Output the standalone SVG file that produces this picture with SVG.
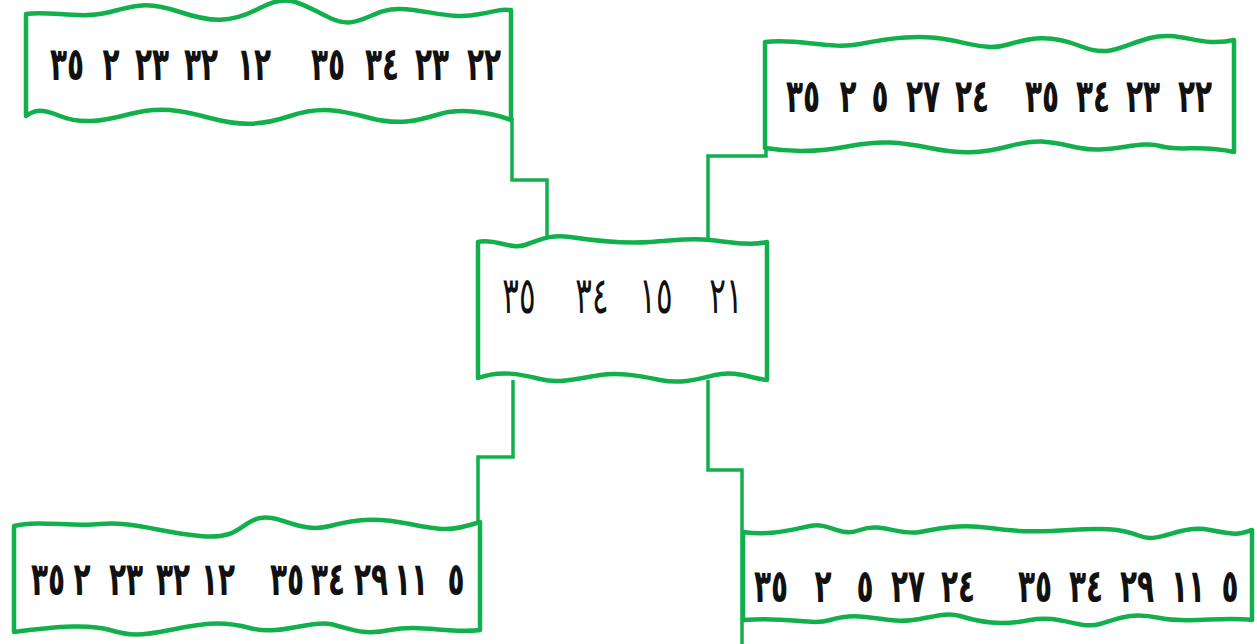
<svg xmlns="http://www.w3.org/2000/svg" width="1257" height="644" viewBox="0 0 1257 644">
<style>
.box{fill:#fff;stroke:#12b04c;stroke-width:4.5;stroke-linejoin:round}
.conn{fill:none;stroke:#12b04c;stroke-width:3.5}
.t{font-family:"DejaVu Sans",sans-serif;font-weight:bold;font-size:28px;fill:#111;text-anchor:middle}
.c{font-family:"DejaVu Sans",sans-serif;font-weight:normal;font-size:31px;fill:#111;text-anchor:middle}
</style>
<rect width="1257" height="644" fill="#fff"/>
<g id="connectors">
<path class="conn" d="M512,118 V180 H547 V240"/>
<path class="conn" d="M708,242 V156 H766 V148"/>
<path class="conn" d="M513,380 V457 H478 V526"/>
<path class="conn" d="M708,380 V470 H742 V644"/>
</g>
<g id="node-top-left">
<path class="box" d="M26,14 C50,10 80,20 110,12 S150,2 180,12 S230,24 260,8 S300,4 330,18 S370,8 400,9 S450,20 480,14 S500,10 511,10 L511,120 C490,112 460,108 440,114 S400,126 370,118 S320,106 290,116 S240,126 210,118 S160,106 130,114 S80,124 60,116 S35,110 26,116 Z"/>
<g transform="translate(0,80) scale(1,1.65)">
<text class="t" x="67" y="0">٣٥</text>
<text class="t" x="111" y="0">٢</text>
<text class="t" x="152" y="0">٢٣</text>
<text class="t" x="201" y="0">٣٢</text>
<text class="t" x="254" y="0">١٢</text>
<text class="t" x="328" y="0">٣٥</text>
<text class="t" x="382" y="0">٣٤</text>
<text class="t" x="432" y="0">٢٣</text>
<text class="t" x="484" y="0">٢٢</text>
</g>
</g>
<g id="node-top-right">
<path class="box" d="M765,42 C800,38 830,50 860,44 S920,34 950,40 S990,50 1010,44 S1050,34 1080,46 S1120,46 1150,38 S1200,48 1234,40 L1234,152 C1200,144 1180,152 1160,146 S1110,154 1080,148 S1040,138 1010,146 S960,154 930,148 S880,140 850,146 S790,152 765,148 Z"/>
<g transform="translate(0,112) scale(1,1.65)">
<text class="t" x="803" y="0">٣٥</text>
<text class="t" x="848" y="0">٢</text>
<text class="t" x="880" y="0">٥</text>
<text class="t" x="923" y="0">٢٧</text>
<text class="t" x="972" y="0">٢٤</text>
<text class="t" x="1042" y="0">٣٥</text>
<text class="t" x="1093" y="0">٣٤</text>
<text class="t" x="1143" y="0">٢٣</text>
<text class="t" x="1195" y="0">٢٢</text>
</g>
</g>
<g id="node-center">
<path class="box" d="M478,242 C495,238 510,250 525,245 S550,234 570,237 S620,244 650,242 S690,238 710,240 S750,246 767,242 L767,380 C750,378 735,370 715,375 S680,384 660,380 S620,372 600,375 S560,384 540,379 S500,370 478,378 Z"/>
<g transform="translate(0,313) scale(1,1.65)">
<text class="c" x="519" y="0">٣٥</text>
<text class="c" x="592" y="0">٣٤</text>
<text class="c" x="656" y="0">١٥</text>
<text class="c" x="726" y="0">٢١</text>
</g>
</g>
<g id="node-bottom-left">
<path class="box" d="M14,526 C40,520 70,527 100,524 S160,532 200,536 S240,522 260,518 S300,534 330,526 S380,518 410,524 S450,532 480,522 L480,630 C450,634 420,624 390,630 S350,628 330,624 S280,636 250,628 S200,624 170,630 S130,636 110,630 S60,626 14,632 Z"/>
<g transform="translate(0,595) scale(1,1.65)">
<text class="t" x="48" y="0">٣٥</text>
<text class="t" x="82" y="0">٢</text>
<text class="t" x="126" y="0">٢٣</text>
<text class="t" x="173" y="0">٣٢</text>
<text class="t" x="218" y="0">١٢</text>
<text class="t" x="287" y="0">٣٥</text>
<text class="t" x="328" y="0">٣٤</text>
<text class="t" x="371" y="0">٢٩</text>
<text class="t" x="411" y="0">١١</text>
<text class="t" x="456" y="0">٥</text>
</g>
</g>
<g id="node-bottom-right">
<path class="box" d="M743,532 C770,536 790,530 810,526 S840,538 860,530 S900,536 920,532 S960,524 990,528 S1040,532 1070,530 S1120,528 1140,536 S1180,524 1210,530 S1240,534 1252,530 L1252,620 C1220,616 1190,624 1160,618 S1120,618 1100,624 S1060,614 1030,620 S980,622 960,616 S920,624 890,620 S850,614 830,620 S790,616 743,620 Z"/>
<g transform="translate(0,602) scale(1,1.65)">
<text class="t" x="771" y="0">٣٥</text>
<text class="t" x="823" y="0">٢</text>
<text class="t" x="865" y="0">٥</text>
<text class="t" x="908" y="0">٢٧</text>
<text class="t" x="958" y="0">٢٤</text>
<text class="t" x="1035" y="0">٣٥</text>
<text class="t" x="1086" y="0">٣٤</text>
<text class="t" x="1137" y="0">٢٩</text>
<text class="t" x="1188" y="0">١١</text>
<text class="t" x="1230" y="0">٥</text>
</g>
</g>
</svg>
